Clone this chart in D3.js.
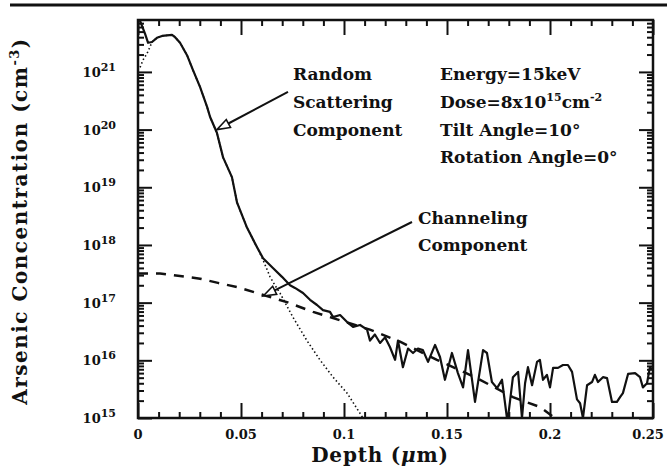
<!DOCTYPE html>
<html>
<head>
<meta charset="utf-8">
<script src="https://cdn.jsdelivr.net/npm/d3@7"></script>
<style>
  body { margin: 0; background: #fff; }
  svg text { font-family: "DejaVu Serif", serif; font-weight: bold; fill: #111; }
</style>
</head>
<body>
<div id="chart"></div>
<script>
// measured profile (depth in um, concentration in cm^-3)
var totalDepth = [0.0008,0.0034,0.0049,0.0068,0.0092,0.0117,0.0165,0.018,0.0204,0.0238,0.0267,0.0301,0.0335,0.035,0.0383,0.0413,0.0456,0.0481,0.0529,0.0578,0.0607,0.0655,0.0699,0.0738,
  0.0762,0.0801,0.0835,0.0869,0.0898,0.0932,0.0947,0.0981,0.1015,0.1044,0.1078,0.1112,0.1126,0.115,0.1175,0.1199,0.1223,0.1248,0.1262,0.1286,0.1311,0.1335,0.1359,0.1383,0.1408,0.1442,0.1466,0.149,0.1524,0.1553,0.1578,0.1602,0.1636,0.1675,0.1694,0.1718,0.1743,0.1767,0.1791,0.1796,
  0.182,0.1845,0.1864,0.1879,0.1893,0.1913,0.1937,0.1951,0.1966,0.1985,0.2,0.2015,0.2039,0.2063,0.2087,0.2107,0.2131,0.2146,0.216,0.218,0.2204,0.2218,0.2233,0.2257,0.2277,0.2301,0.2325,0.234,0.2354,0.2379,0.2413,0.2437,0.2451,0.2471,0.2485,0.25];
var totalConc = [8e21,4.6e21,3.2e21,3.3e21,3.9e21,4.2e21,4.4e21,4.0e21,3.2e21,1.95e21,1.07e21,5.5e20,2.5e20,1.65e20,8.8e19,3.3e19,1.5e19,5.4e18,2.0e18,9.1e17,5.9e17,4.0e17,2.8e17,2.0e17,
  1.8e17,1.47e17,1.12e17,9.1e16,7.4e16,6.9e16,5.6e16,6.1e16,4.6e16,3.8e16,4.1e16,3.4e16,2.2e16,2.8e16,2.0e16,2.5e16,1.7e16,1.02e16,2.2e16,7.6e15,1.6e16,1.34e16,1.6e16,1.5e16,9.4e15,1.85e16,1.14e16,4.6e15,1.34e16,6.0e15,3.4e15,1.5e16,1.9e15,1.5e16,1.34e16,4.2e15,3.3e15,4.6e15,1e15,1e15,
  5.1e15,6.3e15,1e15,4.0e15,7.6e15,3.7e15,9.4e15,1.02e16,4.6e15,5.6e15,3.4e15,7.4e15,7.4e15,8.3e15,8.3e15,6.3e15,2.1e15,1.8e15,1e15,3.7e15,4.2e15,5.6e15,4.2e15,5.1e15,4.9e15,1.9e15,1.9e15,2.3e15,2.7e15,5.8e15,6.0e15,5.1e15,3.4e15,4.0e15,7.6e15,6.8e15];

// random scattering component (dotted)
var randomDepth = [0.001,0.0024,0.0044,0.0058,0.0068,0.0092,0.0117,0.0165,0.018,0.0204,0.0238,0.0267,0.0301,0.0335,0.035,0.0383,0.0413,0.0456,0.0481,0.0529,0.0578,0.0607,0.0641,0.0665,0.0689,0.0752,0.082,0.0883,0.0947,0.1015,0.1078,0.1092];
var randomConc = [1.2e21,1.6e21,2.1e21,2.7e21,3.3e21,3.9e21,4.2e21,4.4e21,4.0e21,3.2e21,1.95e21,1.07e21,5.5e20,2.5e20,1.65e20,8.8e19,3.3e19,1.5e19,5.4e18,2.0e18,9.1e17,5.5e17,2.8e17,2.0e17,1.47e17,5.6e16,2.2e16,1.02e16,5.1e15,2.7e15,1.2e15,1e15];

// channeling component (dashed)
var chanDepth = [0,0.0107,0.0204,0.0301,0.0388,0.0481,0.0568,0.0723,0.085,0.0947,0.1126,0.1272,0.1451,0.1646,0.182,0.1951,0.2024];
var chanConc = [3.2e17,3.2e17,2.9e17,2.6e17,2.2e17,1.86e17,1.5e17,1.02e17,6.9e16,5.4e16,3.4e16,2.1e16,1.02e16,4.9e15,2.3e15,1.55e15,1e15];

var xMajor = [0, 0.05, 0.1, 0.15, 0.2, 0.25];
var xLabels = ["0", "0.05", "0.1", "0.15", "0.2", "0.25"];
var yExponents = [15, 16, 17, 18, 19, 20, 21];

var W = 667, H = 468;
var margin = {left: 138, top: 20, right: 14, bottom: 50};
var pw = W - margin.left - margin.right, ph = H - margin.top - margin.bottom;

var x = d3.scaleLinear().domain([0, 0.25]).range([0, pw]);
var y = d3.scaleLog().domain([1e15, Math.pow(10, 21.9)]).range([ph, 0]);

var svg = d3.select("#chart").append("svg")
  .attr("width", W).attr("height", H);

// header rule of the page
svg.append("line").attr("x1", 10).attr("x2", W).attr("y1", 5).attr("y2", 5)
  .attr("stroke", "#111").attr("stroke-width", 3);

var g = svg.append("g").attr("transform", "translate(" + margin.left + "," + margin.top + ")");

g.append("clipPath").attr("id", "clip").append("rect")
  .attr("width", pw).attr("height", ph);

// tick values
var xMinor = d3.range(0, 26).map(function(i){ return i / 100; })
  .filter(function(v){ return Math.round(v * 100) % 5 != 0; });
var yMajor = yExponents.map(function(e){ return Math.pow(10, e); });
var yMinor = [];
yExponents.forEach(function(e){
  for (var k = 2; k <= 9; k++){
    var v = k * Math.pow(10, e);
    if (v < y.domain()[1]) yMinor.push(v);
  }
});

function tickAxis(axis, vals, size){
  return axis.tickValues(vals).tickSize(size).tickFormat("");
}
var axes = [
  [d3.axisBottom(x), xMajor, -15, "translate(0," + ph + ")"],
  [d3.axisBottom(x), xMinor, -6, "translate(0," + ph + ")"],
  [d3.axisTop(x), xMajor, -15, "translate(0,0)"],
  [d3.axisTop(x), xMinor, -6, "translate(0,0)"],
  [d3.axisLeft(y), yMajor, -14, "translate(0,0)"],
  [d3.axisLeft(y), yMinor, -6, "translate(0,0)"],
  [d3.axisRight(y), yMajor, -14, "translate(" + pw + ",0)"],
  [d3.axisRight(y), yMinor, -6, "translate(" + pw + ",0)"]
];
axes.forEach(function(a){
  var ag = g.append("g").attr("transform", a[3]).call(tickAxis(a[0], a[1], a[2]));
  ag.select(".domain").remove();
  ag.selectAll("line").attr("stroke", "#111").attr("stroke-width", 2);
});

g.append("rect").attr("width", pw).attr("height", ph)
  .attr("fill", "none").attr("stroke", "#111").attr("stroke-width", 2.5);

// tick labels
g.selectAll(".xl").data(xMajor).enter().append("text")
  .attr("x", function(d, i){ return x(d) - (i == xMajor.length - 1 ? 5 : 0); })
  .attr("y", ph + 21)
  .attr("text-anchor", "middle")
  .style("font-size", "13px")
  .text(function(d, i){ return xLabels[i]; });

var yl = g.selectAll(".yl").data(yExponents).enter().append("text")
  .attr("x", -22)
  .attr("y", function(d){ return y(Math.pow(10, d)) + 5; })
  .attr("text-anchor", "end")
  .style("font-size", "13px");
yl.append("tspan").text("10");
yl.append("tspan").attr("dy", -6).style("font-size", "11px").text(function(d){ return d; });

// curves
var line = d3.line()
  .x(function(d){ return x(d[0]); })
  .y(function(d){ return y(d[1]); });
var curves = g.append("g").attr("clip-path", "url(#clip)");

curves.append("path").datum(d3.zip(randomDepth, randomConc))
  .attr("d", line).attr("fill", "none").attr("stroke", "#111")
  .attr("stroke-width", 1.6).attr("stroke-dasharray", "1.5,2.5");
curves.append("path").datum(d3.zip(chanDepth, chanConc))
  .attr("d", line).attr("fill", "none").attr("stroke", "#111")
  .attr("stroke-width", 2.5).attr("stroke-dasharray", "10,8");
curves.append("path").datum(d3.zip(totalDepth, totalConc))
  .attr("d", line).attr("fill", "none").attr("stroke", "#111")
  .attr("stroke-width", 2.2).attr("stroke-linejoin", "round");

// annotation arrows (tail, tip) in data units
var arrows = [
  [[0.0728, 4.5e20], [0.0383, 1e20]],
  [[0.133, 2.5e18], [0.0607, 1.3e17]]
];
arrows.forEach(function(a){
  var x0 = x(a[0][0]), y0 = y(a[0][1]), x1 = x(a[1][0]), y1 = y(a[1][1]);
  var ang = Math.atan2(y1 - y0, x1 - x0);
  var L = 13, hw = 4.5;
  var bx = x1 - L * Math.cos(ang), by = y1 - L * Math.sin(ang);
  g.append("line").attr("x1", x0).attr("y1", y0).attr("x2", bx).attr("y2", by)
    .attr("stroke", "#111").attr("stroke-width", 2);
  var pts = [
    [x1, y1],
    [bx + hw * Math.sin(ang), by - hw * Math.cos(ang)],
    [bx - hw * Math.sin(ang), by + hw * Math.cos(ang)]
  ];
  g.append("polygon").attr("points", pts.map(function(p){ return p.join(","); }).join(" "))
    .attr("fill", "#fff").attr("stroke", "#111").attr("stroke-width", 1.6);
});

// annotation text; parts are [text, dy, small]
function note(d, c, parts){
  var t = g.append("text").attr("x", x(d)).attr("y", y(c)).style("font-size", "17px");
  parts.forEach(function(p){
    var s = t.append("tspan").text(p[0]);
    if (p[1]) s.attr("dy", p[1]);
    if (p[2]) s.style("font-size", "11px");
  });
}
note(0.0752, Math.pow(10, 20.86), [["Random"]]);
note(0.0752, Math.pow(10, 20.37), [["Scattering"]]);
note(0.0752, Math.pow(10, 19.89), [["Component"]]);
note(0.1466, Math.pow(10, 20.86), [["Energy=15keV"]]);
note(0.1466, Math.pow(10, 20.37), [["Dose=8x10"], ["15", -7, true], ["cm", 7], ["-2", -7, true]]);
note(0.1466, Math.pow(10, 19.89), [["Tilt Angle=10°"]]);
note(0.1466, Math.pow(10, 19.42), [["Rotation Angle=0°"]]);
note(0.1359, Math.pow(10, 18.36), [["Channeling"]]);
note(0.1359, Math.pow(10, 17.89), [["Component"]]);

// axis titles
var xt = svg.append("text")
  .attr("x", 380).attr("y", H - 6)
  .attr("text-anchor", "middle").style("font-size", "20px")
  .style("letter-spacing", "0.8px");
xt.append("tspan").text("Depth (");
xt.append("tspan").style("font-style", "italic").text("μ");
xt.append("tspan").text("m)");

var yt = svg.append("text")
  .attr("transform", "translate(27," + (margin.top + ph / 2 + 2) + ") rotate(-90)")
  .attr("text-anchor", "middle").style("font-size", "20px")
  .style("letter-spacing", "1.5px");
yt.append("tspan").text("Arsenic Concentration (cm");
yt.append("tspan").attr("dy", -8).style("font-size", "13px").text("-3");
yt.append("tspan").attr("dy", 8).text(")");
</script>
</body>
</html>
